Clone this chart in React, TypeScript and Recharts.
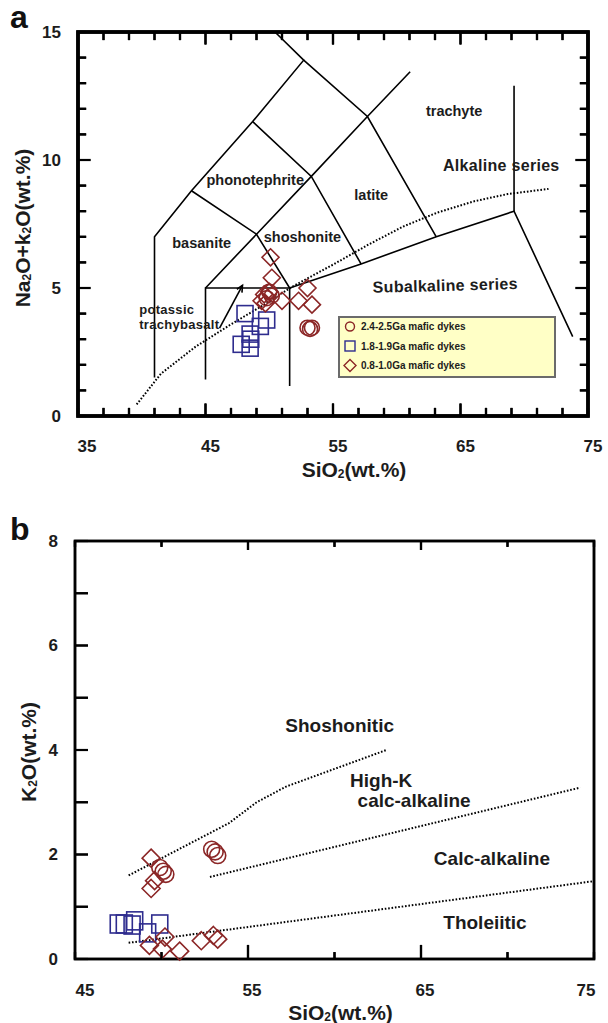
import React from 'react';
import { ScatterChart, Scatter, XAxis, YAxis, ReferenceArea, Legend, Label } from 'recharts';

const FONT = '"Liberation Sans", Arial, Helvetica, sans-serif';
const RED = '#8b2626';
const BLUE = '#2e2c8e';
const INK = '#1c1c1c';

// ---------------- Panel a : TAS diagram ----------------
const tasCircles = [
  { x: 50.0, y: 4.85 }, { x: 50.2, y: 4.7 }, { x: 49.8, y: 4.6 },
  { x: 53.0, y: 3.45 }, { x: 53.2, y: 3.4 }, { x: 53.35, y: 3.45 },
];
const tasSquares = [
  { x: 48.1, y: 4.0 }, { x: 49.8, y: 3.75 }, { x: 49.3, y: 3.5 }, { x: 48.5, y: 3.2 },
  { x: 47.8, y: 2.8 }, { x: 48.5, y: 2.65 }, { x: 48.55, y: 3.0 },
];
const tasDiamonds = [
  { x: 50.1, y: 6.2 }, { x: 50.2, y: 5.4 }, { x: 49.6, y: 4.75 }, { x: 49.4, y: 4.5 },
  { x: 49.7, y: 4.4 }, { x: 50.0, y: 4.85 }, { x: 51.0, y: 4.5 }, { x: 52.3, y: 4.5 },
  { x: 53.0, y: 5.0 }, { x: 53.35, y: 4.35 },
];

const tasLine1 = [{ x: 41, y: 1.5 }, { x: 41, y: 7 }, { x: 43.9, y: 8.8 }, { x: 48.7, y: 11.5 }, { x: 52.7, y: 13.9 }, { x: 50.45, y: 15 }];
const tasLine2 = [{ x: 52.7, y: 13.9 }, { x: 57.7, y: 11.7 }, { x: 63.1, y: 7.0 }];
const tasLine3 = [{ x: 53.3, y: 9.36 }, { x: 57.7, y: 11.7 }, { x: 61.05, y: 13.45 }];
const tasLine4 = [{ x: 48.7, y: 11.5 }, { x: 53.3, y: 9.36 }, { x: 57.2, y: 5.94 }];
const tasLine5 = [{ x: 43.9, y: 8.8 }, { x: 49.0, y: 7.1 }, { x: 51.6, y: 5.0 }, { x: 51.6, y: 1.17 }];
const tasLine6 = [{ x: 45, y: 1.43 }, { x: 45, y: 5 }, { x: 51.6, y: 5 }];
const tasLine7 = [{ x: 45, y: 5 }, { x: 49.0, y: 7.1 }, { x: 53.3, y: 9.36 }];
const tasLine8 = [{ x: 51.6, y: 5 }, { x: 57.2, y: 5.94 }, { x: 63.1, y: 7.0 }, { x: 69.2, y: 8.0 }, { x: 73.8, y: 3.1 }];
const tasLine9 = [{ x: 69.2, y: 8.0 }, { x: 69.2, y: 12.9 }];
const tasArrow = [{ x: 46.1, y: 3.43 }, { x: 47.9, y: 5.1 }];
const tasArrowHead = [{ x: 47.86, y: 4.82 }, { x: 47.9, y: 5.1 }, { x: 47.46, y: 4.95 }];
const tasSolidLines = [tasLine1, tasLine2, tasLine3, tasLine4, tasLine5, tasLine6, tasLine7, tasLine8, tasLine9, tasArrow, tasArrowHead];

const tasDivide = [
  { x: 39.6, y: 0.45 }, { x: 41.5, y: 1.65 }, { x: 44.2, y: 2.7 }, { x: 46.9, y: 3.55 },
  { x: 49.6, y: 4.35 }, { x: 51.8, y: 5.05 }, { x: 55.1, y: 5.94 }, { x: 57.8, y: 6.7 },
  { x: 60.5, y: 7.4 }, { x: 63.2, y: 7.95 }, { x: 66, y: 8.38 }, { x: 68.7, y: 8.67 }, { x: 71.9, y: 8.87 },
];

const tasFieldLabels = [
  { x: 64.5, y: 11.9, label: 'trachyte' },
  { x: 48.9, y: 9.2, label: 'phonotephrite' },
  { x: 58.0, y: 8.65, label: 'latite' },
  { x: 44.7, y: 6.74, label: 'basanite' },
  { x: 52.6, y: 7.0, label: 'shoshonite' },
];
const tasAlkLabels = [{ x: 68.2, y: 9.8, label: 'Alkaline series' }];
const tasSubalkLabels = [{ x: 63.8, y: 5.1, label: 'Subalkaline series' }];
const tasLeftLabels = [
  { x: 39.8, y: 4.15, label: 'potassic' },
  { x: 39.8, y: 3.56, label: 'trachybasalt' },
];

const tasXTicks = [35, 37, 39, 41, 43, 45, 47, 49, 51, 53, 55, 57, 59, 61, 63, 65, 67, 69, 71, 73, 75];
const tasXLabels = [35, 45, 55, 65, 75];
const tasXMajor = [45, 55, 65];
const tasYTicks = [0, 1, 2, 3, 4, 5, 6, 7, 8, 9, 10, 11, 12, 13, 14, 15];
const tasYLabels = [0, 5, 10, 15];
const tasYMajor = [5, 10];

const legendItems = [
  { kind: 'circle', label: '2.4-2.5Ga mafic dykes' },
  { kind: 'square', label: '1.8-1.9Ga mafic dykes' },
  { kind: 'diamond', label: '0.8-1.0Ga mafic dykes' },
];

// ---------------- Panel b : K2O vs SiO2 ----------------
const k2oCircles = [
  { x: 52.9, y: 2.1 }, { x: 53.1, y: 2.05 }, { x: 53.25, y: 1.98 },
  { x: 49.9, y: 1.75 }, { x: 50.1, y: 1.68 }, { x: 50.25, y: 1.62 },
];
const k2oSquares = [
  { x: 47.5, y: 0.67 }, { x: 47.85, y: 0.67 }, { x: 48.3, y: 0.65 },
  { x: 48.45, y: 0.73 }, { x: 49.2, y: 0.5 }, { x: 49.9, y: 0.67 },
];
const k2oDiamonds = [
  { x: 49.4, y: 1.93 }, { x: 49.6, y: 1.5 }, { x: 49.4, y: 1.35 }, { x: 49.3, y: 0.26 },
  { x: 50.2, y: 0.42 }, { x: 50.05, y: 0.19 }, { x: 51.05, y: 0.15 }, { x: 52.3, y: 0.35 },
  { x: 53.0, y: 0.45 }, { x: 53.25, y: 0.38 },
];
const k2oShoshoniticLine = [{ x: 48.1, y: 1.6 }, { x: 53.9, y: 2.6 }, { x: 55.5, y: 3.0 }, { x: 57.2, y: 3.3 }, { x: 63, y: 4.0 }];
const k2oHighKLine = [{ x: 52.8, y: 1.57 }, { x: 74.2, y: 3.28 }];
const k2oCalcAlkLine = [{ x: 48.1, y: 0.31 }, { x: 75, y: 1.49 }];
const k2oDottedLines = [k2oShoshoniticLine, k2oHighKLine, k2oCalcAlkLine];

const k2oLabels = [
  { x: 60.3, y: 4.47, label: 'Shoshonitic' },
  { x: 62.7, y: 3.41, label: 'High-K' },
  { x: 64.6, y: 3.04, label: 'calc-alkaline' },
  { x: 69.1, y: 1.92, label: 'Calc-alkaline' },
  { x: 68.7, y: 0.69, label: 'Tholeiitic' },
];
const k2oXTicks = [45, 50, 55, 60, 65, 70, 75];
const k2oXLabels = [45, 55, 65, 75];
const k2oXMajor = [55, 65];
const k2oYTicks = [0, 1, 2, 3, 4, 5, 6, 7, 8];
const k2oYLabels = [0, 2, 4, 6, 8];

// inward frame tick segments built from the tick lists (lengths in axis units)
const seg = (x1: number, y1: number, x2: number, y2: number) => [{ x: x1, y: y1 }, { x: x2, y: y2 }];
const tasTickSegs = [
  ...tasXTicks.map((v) => seg(v, 0, v, tasXMajor.includes(v) ? 0.5 : 0.32)),
  ...tasXTicks.map((v) => seg(v, 15, v, 15 - (tasXMajor.includes(v) ? 0.5 : 0.32))),
  ...tasYTicks.map((v) => seg(35, v, 35 + (tasYMajor.includes(v) ? 1.0 : 0.65), v)),
  ...tasYTicks.map((v) => seg(75, v, 75 - (tasYMajor.includes(v) ? 1.0 : 0.65), v)),
];
const k2oTickSegs = [
  ...k2oXTicks.map((v) => seg(v, 0, v, k2oXMajor.includes(v) ? 0.27 : 0.13)),
  ...k2oXTicks.map((v) => seg(v, 8, v, 8 - (k2oXMajor.includes(v) ? 0.17 : 0.11))),
  ...k2oYTicks.map((v) => seg(45, v, 45.75, v)),
];

// ---------------- shapes ----------------
const noShape = () => <g />;
const circleShape = (r: number, color: string) => (p: any) => (
  <circle cx={p.cx} cy={p.cy} r={r} fill="none" stroke={color} strokeWidth={1.6} />
);
const squareShape = (w: number, h: number, color: string) => (p: any) => (
  <rect x={p.cx - w / 2} y={p.cy - h / 2} width={w} height={h} fill="none" stroke={color} strokeWidth={1.6} />
);
const diamondShape = (s: number, color: string) => (p: any) => (
  <path d={`M${p.cx},${p.cy - s} L${p.cx + s},${p.cy} L${p.cx},${p.cy + s} L${p.cx - s},${p.cy} Z`} fill="none" stroke={color} strokeWidth={1.6} />
);
const textShape = (size: number, anchor: string, rotate = 0, spacing = 0) => (p: any) => (
  <text
    x={p.cx}
    y={p.cy}
    fontSize={size}
    fontWeight="bold"
    fontFamily={FONT}
    fill={INK}
    textAnchor={anchor}
    dominantBaseline="central"
    letterSpacing={spacing}
    transform={rotate ? `rotate(${rotate} ${p.cx} ${p.cy})` : undefined}
  >
    {p.payload.label}
  </text>
);

type TickFrameCfg = {
  x0: number; x1: number; y0: number; y1: number;
  xTicks: number[]; yTicks: number[]; xMajor: number[]; yMajor: number[];
  bottom: [number, number]; top: [number, number] | null;
  left: [number, number]; right: [number, number] | null;
  width: number; frame: number;
};
const tickFrameShape = (c: TickFrameCfg) => (p: any) => {
  const x = Number(p.x);
  const y = Number(p.y);
  const w = Number(p.width);
  const h = Number(p.height);
  if (!isFinite(x) || !isFinite(y) || !isFinite(w) || !isFinite(h)) return <g />;
  const sx = (v: number) => x + ((v - c.x0) / (c.x1 - c.x0)) * w;
  const sy = (v: number) => y + h - ((v - c.y0) / (c.y1 - c.y0)) * h;
  let d = '';
  c.xTicks.forEach((v) => {
    const major = c.xMajor.includes(v);
    d += `M${sx(v)},${y + h}v${-(major ? c.bottom[0] : c.bottom[1])}`;
    if (c.top) d += `M${sx(v)},${y}v${major ? c.top[0] : c.top[1]}`;
  });
  c.yTicks.forEach((v) => {
    const major = c.yMajor.includes(v);
    d += `M${x},${sy(v)}h${major ? c.left[0] : c.left[1]}`;
    if (c.right) d += `M${x + w},${sy(v)}h${-(major ? c.right[0] : c.right[1])}`;
  });
  return (
    <g>
      <path d={d} fill="none" stroke="#000" strokeWidth={c.width} />
      <rect x={x} y={y} width={w} height={h} fill="none" stroke="#000" strokeWidth={c.frame} />
    </g>
  );
};

type LabelCfg = { side: 'bottom' | 'left'; labels: number[]; fontSize?: number; off: number; dx?: (v: number) => number };
const makeTickLabel = (cfg: LabelCfg) => (props: any) => {
  const { x, y, payload } = props;
  const v = payload.value;
  if (!cfg.labels.includes(v)) return <g />;
  const common = { fontSize: cfg.fontSize || 17, fontWeight: 'bold', fontFamily: FONT, fill: INK, dominantBaseline: 'central' } as any;
  if (cfg.side === 'bottom')
    return <text x={x + (cfg.dx ? cfg.dx(v) : 0)} y={y + cfg.off} textAnchor="middle" {...common}>{v}</text>;
  return <text x={x - cfg.off} y={y} textAnchor="end" {...common}>{v}</text>;
};

const TasLegend = () => (
  <svg width={218} height={62} style={{ display: 'block' }}>
    <rect x={1} y={1} width={216} height={60} fill="#ffffc6" stroke="#6b6b6b" strokeWidth={2} />
    {legendItems.map((it, i) => {
      const cy = 10.5 + i * 19.5;
      const cx = 12;
      let mark = null;
      if (it.kind === 'circle') mark = <circle cx={cx} cy={cy} r={4.5} fill="none" stroke={RED} strokeWidth={1.4} />;
      if (it.kind === 'square') mark = <rect x={cx - 5} y={cy - 5} width={10} height={10} fill="none" stroke={BLUE} strokeWidth={1.4} />;
      if (it.kind === 'diamond') mark = <path d={`M${cx},${cy - 6} L${cx + 6},${cy} L${cx},${cy + 6} L${cx - 6},${cy} Z`} fill="none" stroke={RED} strokeWidth={1.4} />;
      return (
        <g key={it.label}>
          {mark}
          <text x={23} y={cy} dominantBaseline="central" fontSize={10} fontWeight="bold" fontFamily={FONT} fill={INK}>{it.label}</text>
        </g>
      );
    })}
  </svg>
);

const titleStyle = { fontSize: 21, fontWeight: 'bold', fontFamily: FONT, fill: INK } as any;

const XTitle = (shift: number, down: number) => (props: any) => {
  const vb = props.viewBox || { x: 0, y: 0, width: 0, height: 0 };
  const cx = vb.x + vb.width / 2 + shift;
  const cy = vb.y + down;
  return (
    <text x={cx} y={cy} textAnchor="middle" dominantBaseline="central" {...titleStyle}>
      SiO<tspan fontSize={12} dy={5}>2</tspan><tspan dy={-5}>(wt.%)</tspan>
    </text>
  );
};

const TasYTitle = (props: any) => {
  const vb = props.viewBox || { x: 0, y: 0, width: 0, height: 0 };
  const cx = 22;
  const cy = vb.y + vb.height / 2 + 4;
  return (
    <text x={cx} y={cy} textAnchor="middle" dominantBaseline="central" transform={`rotate(-90 ${cx} ${cy})`} {...titleStyle}>
      Na<tspan fontSize={12} dy={5}>2</tspan><tspan dy={-5}>O+k</tspan><tspan fontSize={12} dy={5}>2</tspan><tspan dy={-5}>O(wt.%)</tspan>
    </text>
  );
};

const K2OYTitle = (props: any) => {
  const vb = props.viewBox || { x: 0, y: 0, width: 0, height: 0 };
  const cx = 28;
  const cy = vb.y + vb.height / 2 + 2;
  return (
    <text x={cx} y={cy} textAnchor="middle" dominantBaseline="central" transform={`rotate(-90 ${cx} ${cy})`} {...titleStyle}>
      K<tspan fontSize={12} dy={5}>2</tspan><tspan dy={-5}>O(wt.%)</tspan>
    </text>
  );
};

const panelLetter = { position: 'absolute', left: 10, fontSize: 32, fontWeight: 'bold', fontFamily: FONT, lineHeight: '32px', color: '#111' } as any;

const markProps = { isAnimationActive: false, legendType: 'none' as const };

export default function App() {
  return (
    <div style={{ position: 'absolute', left: 0, top: 0, width: 608, height: 1023, background: '#fff' }}>
      <div style={{ ...panelLetter, top: 1 }}>a</div>
      <div style={{ ...panelLetter, top: 513 }}>b</div>

      <div style={{ position: 'absolute', left: 0, top: 0 }}>
        <ScatterChart width={608} height={490} margin={{ top: 32, right: 20, bottom: 0, left: 0 }}>
          <XAxis
            type="number"
            dataKey="x"
            domain={[35, 75]}
            ticks={tasXTicks}
            interval={0}
            height={74}
            axisLine={false}
            tickLine={false}
            tick={makeTickLabel({ side: 'bottom', labels: tasXLabels, off: 22, dx: (v) => (v === 35 ? 9 : 5) })}
          >
            <Label content={XTitle(21, 53)} />
          </XAxis>
          <YAxis
            type="number"
            dataKey="y"
            domain={[0, 15]}
            ticks={tasYTicks}
            interval={0}
            width={78}
            axisLine={false}
            tickLine={false}
            tick={makeTickLabel({ side: 'left', labels: tasYLabels, off: 9 })}
          >
            <Label content={TasYTitle} />
          </YAxis>
          <ReferenceArea x1={35} x2={75} y1={0} y2={15} fill="none" fillOpacity={0} stroke="#000" strokeWidth={3.5} />
          <ReferenceArea
            x1={35}
            x2={75}
            y1={0}
            y2={15}
            fill="none"
            fillOpacity={0}
            shape={tickFrameShape({
              x0: 35, x1: 75, y0: 0, y1: 15,
              xTicks: tasXTicks, yTicks: tasYTicks, xMajor: tasXMajor, yMajor: tasYMajor,
              bottom: [12, 8], top: [12, 8], left: [12, 8], right: [12, 8], width: 2.2, frame: 3.5,
            })}
          />

          {tasSolidLines.map((ln, i) => (
            <Scatter key={`l${i}`} data={ln} line={{ stroke: '#000', strokeWidth: 1.6 }} shape={noShape} {...markProps} />
          ))}
          <Scatter data={tasDivide} line={{ stroke: '#000', strokeWidth: 2, strokeDasharray: '1.6 1.8' }} shape={noShape} {...markProps} />

          <Scatter data={tasFieldLabels} shape={textShape(14.5, 'middle')} {...markProps} />
          <Scatter data={tasAlkLabels} shape={textShape(16, 'middle', 0, 0.3)} {...markProps} />
          <Scatter data={tasSubalkLabels} shape={textShape(16, 'middle', -1.5, 0.3)} {...markProps} />
          <Scatter data={tasLeftLabels} shape={textShape(13, 'start', 0, 0.3)} {...markProps} />

          <Scatter name="2.4-2.5Ga mafic dykes" data={tasCircles} shape={circleShape(7.5, RED)} isAnimationActive={false} />
          <Scatter name="1.8-1.9Ga mafic dykes" data={tasSquares} shape={squareShape(16, 16, BLUE)} isAnimationActive={false} />
          <Scatter name="0.8-1.0Ga mafic dykes" data={tasDiamonds} shape={diamondShape(8.5, RED)} isAnimationActive={false} />

          {tasTickSegs.map((s, i) => (
            <Scatter key={`t${i}`} data={s} line={{ stroke: '#000', strokeWidth: 2.2 }} shape={noShape} isAnimationActive={false} />
          ))}

          <Legend
            layout="vertical"
            align="center"
            verticalAlign="middle"
            content={() => <TasLegend />}
            wrapperStyle={{ left: 338, top: 316, width: 218, height: 62, lineHeight: 0 }}
          />
        </ScatterChart>
      </div>

      <div style={{ position: 'absolute', left: 0, top: 500 }}>
        <ScatterChart width={608} height={523} margin={{ top: 41, right: 14, bottom: 0, left: 0 }}>
          <XAxis
            type="number"
            dataKey="x"
            domain={[45, 75]}
            ticks={k2oXTicks}
            interval={0}
            height={64}
            axisLine={false}
            tickLine={false}
            tick={makeTickLabel({ side: 'bottom', labels: k2oXLabels, off: 23, dx: (v) => (v === 45 ? 10 : v === 75 ? -8 : 4) })}
          >
            <Label content={XTitle(6, 53)} />
          </XAxis>
          <YAxis
            type="number"
            dataKey="y"
            domain={[0, 8]}
            ticks={k2oYTicks}
            interval={0}
            width={75}
            axisLine={false}
            tickLine={false}
            tick={makeTickLabel({ side: 'left', labels: k2oYLabels, off: 9 })}
          >
            <Label content={K2OYTitle} />
          </YAxis>
          <ReferenceArea x1={45} x2={75} y1={0} y2={8} fill="none" fillOpacity={0} stroke="#000" strokeWidth={2.5} />
          <ReferenceArea
            x1={45}
            x2={75}
            y1={0}
            y2={8}
            fill="none"
            fillOpacity={0}
            shape={tickFrameShape({
              x0: 45, x1: 75, y0: 0, y1: 8,
              xTicks: k2oXTicks, yTicks: k2oYTicks, xMajor: k2oXMajor, yMajor: [],
              bottom: [14, 7], top: [9, 6], left: [13, 13], right: null, width: 2.2, frame: 2.5,
            })}
          />

          {k2oDottedLines.map((ln, i) => (
            <Scatter key={`d${i}`} data={ln} line={{ stroke: '#000', strokeWidth: 2, strokeDasharray: '1.6 1.8' }} shape={noShape} {...markProps} />
          ))}
          <Scatter data={k2oLabels} shape={textShape(19, 'middle')} {...markProps} />

          <Scatter name="1.8-1.9Ga" data={k2oSquares} shape={squareShape(16, 18, BLUE)} isAnimationActive={false} />
          <Scatter name="0.8-1.0Ga" data={k2oDiamonds} shape={diamondShape(9, RED)} isAnimationActive={false} />
          <Scatter name="2.4-2.5Ga" data={k2oCircles} shape={circleShape(8, RED)} isAnimationActive={false} />

          {k2oTickSegs.map((s, i) => (
            <Scatter key={`t${i}`} data={s} line={{ stroke: '#000', strokeWidth: 2.2 }} shape={noShape} isAnimationActive={false} />
          ))}
        </ScatterChart>
      </div>
    </div>
  );
}
